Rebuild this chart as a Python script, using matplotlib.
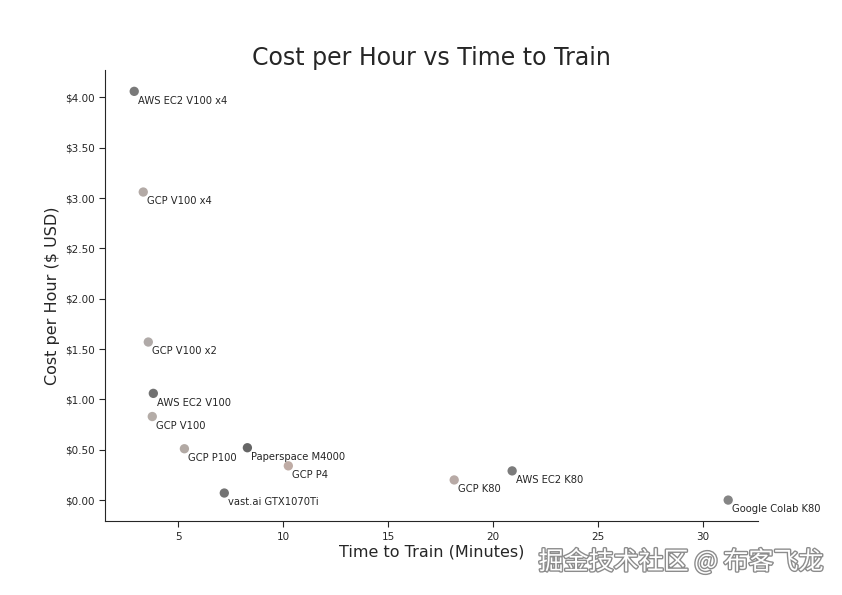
import matplotlib
matplotlib.use("Agg")
import matplotlib.pyplot as plt
import matplotlib.patheffects as pe
from matplotlib.ticker import FuncFormatter
import seaborn as sns

# values
names = ["AWS EC2 V100 x4", "GCP V100 x4", "GCP V100 x2", "AWS EC2 V100",
         "GCP V100", "GCP P100", "Paperspace M4000", "GCP P4",
         "vast.ai GTX1070Ti", "GCP K80", "AWS EC2 K80", "Google Colab K80"]
minutes = [2.9, 3.33, 3.57, 3.81, 3.76, 5.29, 8.29, 10.24, 7.19, 18.14, 20.9, 31.19]
cost = [4.06, 3.06, 1.57, 1.06, 0.83, 0.51, 0.52, 0.34, 0.07, 0.20, 0.29, 0.00]
colors = ["#7a7a7a", "#b3aaa6", "#b0aaa8", "#727272", "#b4aca7", "#b2a9a4",
          "#666666", "#bfaca5", "#747474", "#b8aaa6", "#7c7c7c", "#858585"]

sns.set_style("ticks")
plt.rcParams['font.family'] = ['DejaVu Sans']

fig = plt.figure(figsize=(8.42, 5.95), dpi=100)
ax = fig.add_axes([0.125, 0.124, 0.775, 0.758])

ax.scatter(minutes, cost, s=45, c=colors, edgecolors="none")
for n, x, y in zip(names, minutes, cost):
    ax.annotate(n, (x, y), xytext=(2.5, -3), textcoords="offset points",
                fontsize=7.2, va="top", ha="left", color="#262626")

ax.set_xlim(1.52, 32.6)
ax.set_ylim(-0.21, 4.27)
ax.set_xticks([5, 10, 15, 20, 25, 30])
ax.set_yticks([0, 0.5, 1, 1.5, 2, 2.5, 3, 3.5, 4])
ax.yaxis.set_major_formatter(FuncFormatter(lambda v, p: "${:.2f}".format(v)))
ax.tick_params(labelsize=7.5, length=4, color="#262626", labelcolor="#262626")
for s in ["left", "bottom"]:
    ax.spines[s].set_color("#262626")
sns.despine(ax=ax)

ax.set_title("Cost per Hour vs Time to Train", fontsize=17, color="#262626", pad=3)
ax.set_xlabel("Time to Train (Minutes)", fontsize=11.5, color="#262626", labelpad=2)
ax.set_ylabel("Cost per Hour ($ USD)", fontsize=11.5, color="#262626", labelpad=4)

# watermark
fig.text(0.978, 0.033, "掘金技术社区 @ 布客飞龙", ha="right", va="bottom",
         fontsize=18, color="white", family=["Noto Sans CJK SC", "DejaVu Sans"],
         path_effects=[pe.withStroke(linewidth=2, foreground="#8c8c8c")])

fig.savefig("out.png", dpi=100)
